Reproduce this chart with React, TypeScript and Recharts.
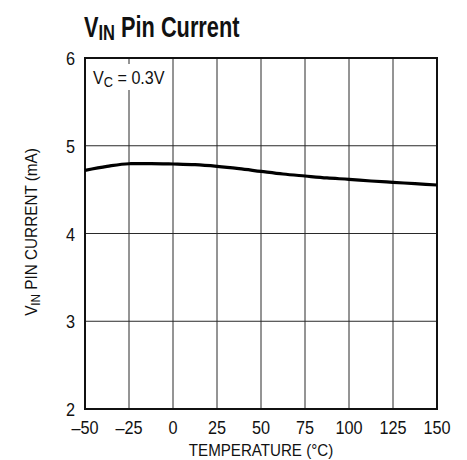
import React from 'react';
import { LineChart, Line, XAxis, YAxis, CartesianGrid, ReferenceArea, Label } from 'recharts';

const temps = [-50, -37.5, -25, -12.5, 0, 12.5, 25, 37.5, 50, 62.5, 75, 87.5, 100, 112.5, 125, 137.5, 150];
const current = [4.72, 4.765, 4.795, 4.797, 4.792, 4.784, 4.765, 4.739, 4.708, 4.678, 4.655, 4.633, 4.617, 4.598, 4.583, 4.568, 4.553];
const xTicks = [-50, -25, 0, 25, 50, 75, 100, 125, 150];
const yTicks = [2, 3, 4, 5, 6];

const data = temps.map((t, i) => ({ t, v: current[i] }));

const FONT = '"Liberation Sans", Arial, sans-serif';
const INK = '#111';

const fmtX = (v: number) => (v < 0 ? '\u2013' + Math.abs(v) : String(v));

// narrow text: no condensed face installed, so squeeze horizontally
const Cond = ({ x, y, sx = 0.88, rotate = 0, anchor = 'start', size = 18, weight = 'normal', children }: any) => (
  <g transform={`translate(${x} ${y}) rotate(${rotate}) scale(${sx} 1)`}>
    <text
      x={0}
      y={0}
      textAnchor={anchor}
      style={{ fontFamily: FONT, fontSize: size, fontWeight: weight, fill: INK }}
    >
      {children}
    </text>
  </g>
);

const XTick = ({ x, y, payload }: any) => (
  <Cond x={x} y={y + 13} anchor="middle" size={18.5}>{fmtX(payload.value)}</Cond>
);

const YTick = ({ x, y, payload }: any) => (
  <Cond x={x} y={y + 7} anchor="end" size={18.5}>{payload.value}</Cond>
);

const XLabel = () => (
  <Cond x={261} y={456} anchor="middle" size={17} sx={0.89}>TEMPERATURE (°C)</Cond>
);

const YLabel = () => (
  <Cond x={37} y={232} anchor="middle" size={17} sx={0.9} rotate={-90}>
    V<tspan fontSize={13} dy={3}>IN</tspan>
    <tspan dy={-3}> PIN CURRENT (mA)</tspan>
  </Cond>
);

export default function App() {
  return (
    <div style={{ position: 'absolute', left: 0, top: 0, width: 467, height: 460, background: '#fff' }}>
      <LineChart
        width={467}
        height={460}
        data={data}
        margin={{ top: 58, right: 30, bottom: 0, left: 0 }}
      >
        <CartesianGrid stroke="#2a2a2a" strokeWidth={1} />
        <XAxis
          dataKey="t"
          type="number"
          domain={[-50, 150]}
          ticks={xTicks}
          axisLine={false}
          tickLine={false}
          tick={<XTick />}
          tickMargin={6}
          height={51}
        >
          <Label content={<XLabel />} />
        </XAxis>
        <YAxis
          type="number"
          domain={[2, 6]}
          ticks={yTicks}
          axisLine={false}
          tickLine={false}
          tick={<YTick />}
          tickMargin={4}
          width={85}
        >
          <Label content={<YLabel />} />
        </YAxis>
        <ReferenceArea x1={-50} x2={150} y1={2} y2={6} fill="none" stroke={INK} strokeWidth={2} />
        <Line
          dataKey="v"
          type="monotone"
          stroke="#000"
          strokeWidth={3.2}
          dot={false}
          isAnimationActive={false}
        />
      </LineChart>
      <svg
        width={467}
        height={460}
        style={{ position: 'absolute', left: 0, top: 0, pointerEvents: 'none' }}
      >
        <Cond x={84} y={37} size={29} weight="bold" sx={0.75}>
          V<tspan fontSize={22} dy={3}>IN</tspan>
          <tspan dy={-3}> Pin Current</tspan>
        </Cond>
        <rect x={88} y={64} width={80} height={26} fill="#fff" />
        <Cond x={93} y={84} size={19} sx={0.85}>
          V<tspan fontSize={15} dy={3}>C</tspan>
          <tspan dy={-3}> = 0.3V</tspan>
        </Cond>
      </svg>
    </div>
  );
}
